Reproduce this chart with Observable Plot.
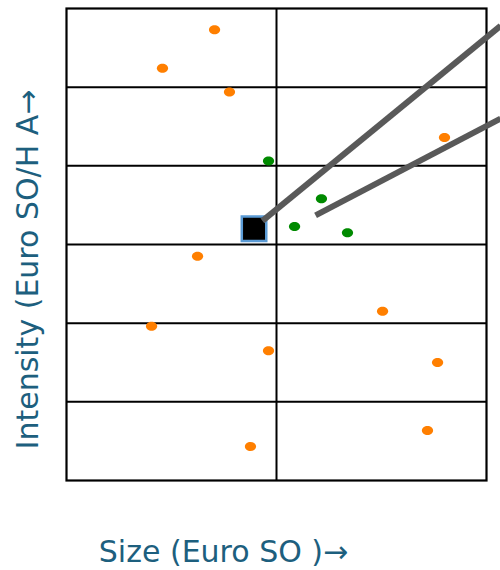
<!DOCTYPE html>
<html>
<head>
<meta charset="utf-8">
<script src="https://cdn.jsdelivr.net/npm/d3@7"></script>
<script src="https://cdn.jsdelivr.net/npm/@observablehq/plot@0.6"></script>
<style>
  html, body { margin: 0; padding: 0; background: #fff; }
</style>
</head>
<body>
<div id="chart"></div>
<script>
// Orange points (size, intensity)
const orangeX = [0.705, 0.457, 0.776, 1.800, 0.624, 0.405, 1.505, 0.962, 1.767, 1.719, 0.876];
const orangeY = [5.73, 5.24, 4.94, 4.36, 2.85, 1.96, 2.15, 1.65, 1.50, 0.636, 0.432];
// Green points
const greenX = [0.962, 1.214, 1.086, 1.338];
const greenY = [4.06, 3.58, 3.23, 3.15];
// Highlighted square
const squareX = [0.893];
const squareY = [3.20];
// Two gray trend lines (start, end)
const lineIds = ["a", "a", "b", "b"];
const lineX = [0.933, 2.067, 1.186, 2.067];
const lineY = [3.30, 5.78, 3.37, 4.60];
// Grid
const xGrid = [1];
const yGrid = [1, 2, 3, 4, 5];
const xDomain = [0, 2];
const yDomain = [0, 6];
const xLabel = "Size (Euro SO )\u2192";
const yLabel = "Intensity (Euro SO/H A\u2192";

const orange = orangeX.map((x, i) => ({x, y: orangeY[i]}));
const green = greenX.map((x, i) => ({x, y: greenY[i]}));
const square = squareX.map((x, i) => ({x, y: squareY[i]}));
const lines = lineX.map((x, i) => ({id: lineIds[i], x, y: lineY[i]}));

const ellipse = {
  draw(context, size) {
    const r = Math.sqrt(size / Math.PI);
    const rx = r * 1.12, ry = r * 0.9, k = 0.5523;
    context.moveTo(rx, 0);
    context.bezierCurveTo(rx, ry * k, rx * k, ry, 0, ry);
    context.bezierCurveTo(-rx * k, ry, -rx, ry * k, -rx, 0);
    context.bezierCurveTo(-rx, -ry * k, -rx * k, -ry, 0, -ry);
    context.bezierCurveTo(rx * k, -ry, rx, -ry * k, rx, 0);
    context.closePath();
  }
};

const teal = "#1d5f7e";
const font = "DejaVu Sans, Verdana, sans-serif";

const chart = Plot.plot({
  width: 500,
  height: 570,
  marginLeft: 66,
  marginRight: 14,
  marginTop: 8,
  marginBottom: 90,
  x: {domain: xDomain, axis: null},
  y: {domain: yDomain, axis: null},
  style: {fontFamily: font, background: "#fff"},
  marks: [
    Plot.ruleY(yGrid, {stroke: "#000", strokeWidth: 2}),
    Plot.ruleX(xGrid, {stroke: "#000", strokeWidth: 2}),
    Plot.frame({stroke: "#000", strokeWidth: 2.2}),
    Plot.dot(orange, {x: "x", y: "y", r: 5, fill: "#ff7f00", symbol: ellipse}),
    Plot.dot(green, {x: "x", y: "y", r: 5, fill: "#008a00", symbol: ellipse}),
    Plot.dot(square, {x: "x", y: "y", r: 13.8, symbol: "square", fill: "#000", stroke: "#5b9bd5", strokeWidth: 2.5}),
    Plot.line(lines, {x: "x", y: "y", z: "id", stroke: "#595959", strokeWidth: 6, strokeLinecap: "butt"}),
    Plot.text([yLabel], {frameAnchor: "left", dx: -38, dy: 25, rotate: -90, textAnchor: "middle", lineAnchor: "middle", fill: teal, fontSize: 30, fontFamily: font}),
    Plot.text([xLabel], {frameAnchor: "bottom", dx: -53, dy: 72, textAnchor: "middle", fill: teal, fontSize: 30, fontFamily: font, lineAnchor: "middle"})
  ]
});
document.getElementById("chart").appendChild(chart);
</script>
</body>
</html>
